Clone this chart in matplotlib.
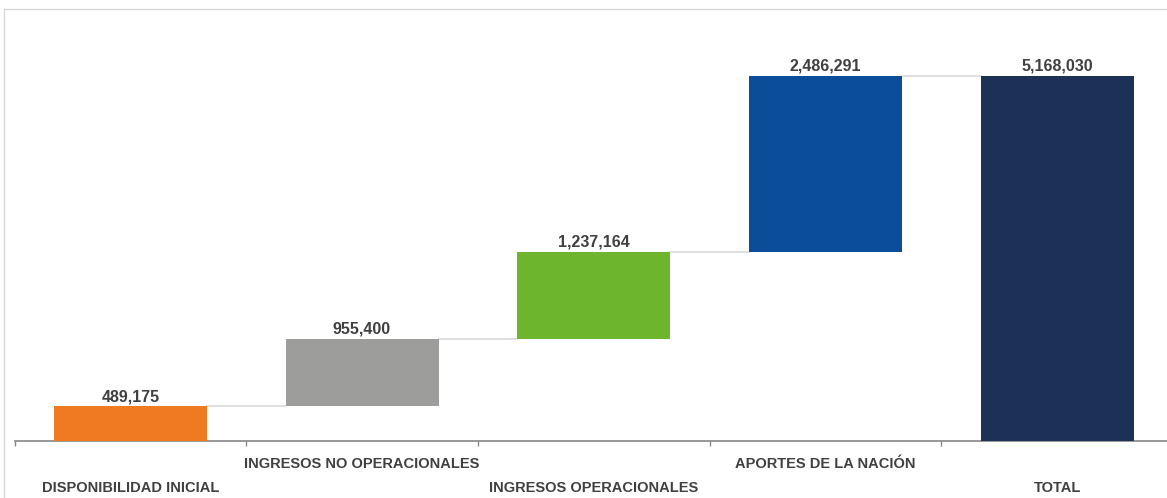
import matplotlib.pyplot as plt
from matplotlib.lines import Line2D

# Datos del gráfico de cascada
categorias = ['DISPONIBILIDAD INICIAL', 'INGRESOS NO OPERACIONALES',
              'INGRESOS OPERACIONALES', 'APORTES DE LA NACIÓN', 'TOTAL']
valores = [489175, 955400, 1237164, 2486291, 5168030]
etiquetas = ['489,175', '955,400', '1,237,164', '2,486,291', '5,168,030']
colores = ['#EF7A22', '#9D9D9C', '#6CB52D', '#0C4D9A', '#1B3155']

# Base de cada barra (la última es el total desde cero)
bases = []
acum = 0
for v in valores[:-1]:
    bases.append(acum)
    acum += v
bases.append(0)

plt.rcParams['font.family'] = ['Liberation Sans', 'DejaVu Sans']

fig = plt.figure(figsize=(11.67, 4.98), dpi=100)
W, H = 1167, 498
# eje: x de 14.5 a 1173 px, base en y=441, 5,168,030 en y=76
y_top_px = 20
escala = valores[-1] / (441 - 76)
ax = fig.add_axes([14.5 / W, (H - 441) / H, (1173 - 14.5) / W, (441 - y_top_px) / H])
ax.set_xlim(-0.5, 4.5)
ax.set_ylim(0, (441 - y_top_px) * escala)

x = list(range(len(valores)))
ancho = 0.66
ax.bar(x, valores, bottom=bases, width=ancho, color=colores, zorder=3)

# líneas conectoras
for i in range(len(valores) - 1):
    nivel = bases[i] + valores[i]
    ax.plot([i + ancho / 2, i + 1 - ancho / 2], [nivel, nivel],
            color='#d9d9d9', lw=1.2, zorder=2)

# etiquetas de valor
for i, t in enumerate(etiquetas):
    ax.annotate(t, (i, bases[i] + valores[i]), xytext=(0, 1.5),
                textcoords='offset points', ha='center', va='bottom',
                fontsize=11.5, fontweight='bold', color='#404040')

for s in ['top', 'right', 'left']:
    ax.spines[s].set_visible(False)
ax.spines['bottom'].set_color('#868686')
ax.spines['bottom'].set_linewidth(1.2)
ax.set_yticks([])

ax.set_xticks(x)
ax.set_xticklabels(categorias, fontsize=10.5, fontweight='bold', color='#404040')
ax.tick_params(axis='x', which='major', length=0)
for i, tick in enumerate(ax.xaxis.get_major_ticks()):
    tick.set_pad(29 if i % 2 == 0 else 11.5)
ax.set_xticks([-0.5, 0.5, 1.5, 2.5, 3.5], minor=True)
ax.tick_params(axis='x', which='minor', length=3.5, width=1, color='#868686')

# marco gris claro
fig.add_artist(Line2D([4 / W, 1], [1 - 9 / H, 1 - 9 / H], color='#d9d9d9', lw=1))
fig.add_artist(Line2D([4 / W, 4 / W], [0, 1 - 9 / H], color='#d9d9d9', lw=1))

fig.savefig('out.png', dpi=100)
